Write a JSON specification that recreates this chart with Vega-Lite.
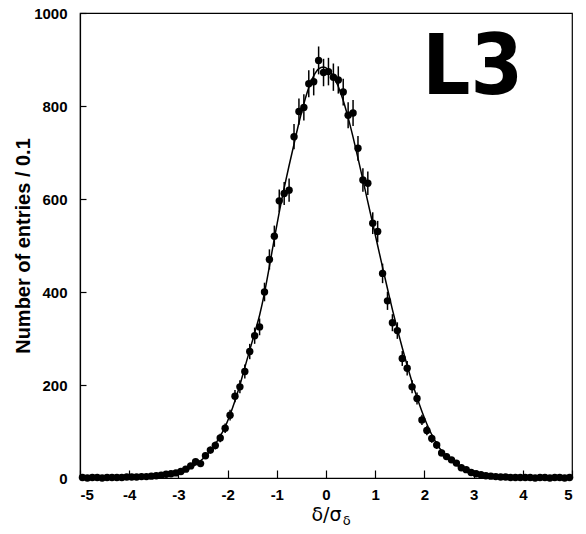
{
  "$schema": "https://vega.github.io/schema/vega-lite/v6.json",
  "autosize": "none",
  "width": 492,
  "height": 465,
  "padding": {"left": 80, "top": 13, "right": 14, "bottom": 56},
  "background": "white",
  "config": {
    "view": {"stroke": "black", "strokeWidth": 1.2},
    "axis": {
      "grid": false,
      "domainColor": "black",
      "domainWidth": 1.2,
      "tickColor": "black",
      "tickWidth": 1.2,
      "labelFont": "Liberation Sans",
      "labelFontWeight": "bold",
      "labelFontSize": 15,
      "labelColor": "black",
      "titleFont": "Liberation Sans",
      "titleColor": "black"
    }
  },
  "data": {
    "values": [
      {"x": -4.95, "n": 1, "err": 1, "fit": 0.5},
      {"x": -4.85, "n": 0, "err": 1, "fit": 0.5},
      {"x": -4.75, "n": 1, "err": 1, "fit": 0.6},
      {"x": -4.65, "n": 1, "err": 1, "fit": 0.6},
      {"x": -4.55, "n": 0, "err": 1, "fit": 0.7},
      {"x": -4.45, "n": 1, "err": 1, "fit": 0.7},
      {"x": -4.35, "n": 1, "err": 1, "fit": 0.8},
      {"x": -4.25, "n": 1, "err": 1, "fit": 0.9},
      {"x": -4.15, "n": 1, "err": 1, "fit": 1.0},
      {"x": -4.05, "n": 2, "err": 1.4, "fit": 1.2},
      {"x": -3.95, "n": 2, "err": 1.4, "fit": 1.5},
      {"x": -3.85, "n": 2, "err": 1.4, "fit": 1.8},
      {"x": -3.75, "n": 3, "err": 1.7, "fit": 2.2},
      {"x": -3.65, "n": 3, "err": 1.7, "fit": 2.8},
      {"x": -3.55, "n": 4, "err": 2, "fit": 3.4},
      {"x": -3.45, "n": 5, "err": 2.2, "fit": 4.2},
      {"x": -3.35, "n": 6, "err": 2.4, "fit": 5.2},
      {"x": -3.25, "n": 8, "err": 2.8, "fit": 6.5},
      {"x": -3.15, "n": 9, "err": 3, "fit": 8},
      {"x": -3.05, "n": 11, "err": 3.3, "fit": 10},
      {"x": -2.95, "n": 14, "err": 3.7, "fit": 13},
      {"x": -2.85, "n": 19, "err": 4.4, "fit": 17},
      {"x": -2.75, "n": 26, "err": 5.1, "fit": 22},
      {"x": -2.65, "n": 35, "err": 5.9, "fit": 29},
      {"x": -2.55, "n": 31, "err": 5.6, "fit": 37},
      {"x": -2.45, "n": 48, "err": 6.9, "fit": 47},
      {"x": -2.35, "n": 60, "err": 7.7, "fit": 59},
      {"x": -2.25, "n": 70, "err": 8.4, "fit": 73},
      {"x": -2.15, "n": 86, "err": 9.3, "fit": 90},
      {"x": -2.05, "n": 107, "err": 10.3, "fit": 110},
      {"x": -1.95, "n": 135, "err": 11.6, "fit": 136},
      {"x": -1.85, "n": 176, "err": 13.3, "fit": 166},
      {"x": -1.75, "n": 196, "err": 14, "fit": 200},
      {"x": -1.65, "n": 229, "err": 15.1, "fit": 238},
      {"x": -1.55, "n": 272, "err": 16.5, "fit": 275},
      {"x": -1.45, "n": 306, "err": 17.5, "fit": 312},
      {"x": -1.35, "n": 325, "err": 18, "fit": 350},
      {"x": -1.25, "n": 400, "err": 20, "fit": 398},
      {"x": -1.15, "n": 470, "err": 21.7, "fit": 455},
      {"x": -1.05, "n": 520, "err": 22.8, "fit": 515},
      {"x": -0.95, "n": 596, "err": 24.4, "fit": 572},
      {"x": -0.85, "n": 612, "err": 24.7, "fit": 624},
      {"x": -0.75, "n": 619, "err": 24.9, "fit": 672},
      {"x": -0.65, "n": 734, "err": 27.1, "fit": 718},
      {"x": -0.55, "n": 788, "err": 28.1, "fit": 764},
      {"x": -0.45, "n": 797, "err": 28.2, "fit": 805},
      {"x": -0.35, "n": 848, "err": 29.1, "fit": 840},
      {"x": -0.25, "n": 852, "err": 29.2, "fit": 865},
      {"x": -0.15, "n": 898, "err": 30, "fit": 880},
      {"x": -0.05, "n": 872, "err": 29.5, "fit": 884},
      {"x": 0.05, "n": 874, "err": 29.6, "fit": 878},
      {"x": 0.15, "n": 862, "err": 29.4, "fit": 864},
      {"x": 0.25, "n": 856, "err": 29.3, "fit": 842},
      {"x": 0.35, "n": 830, "err": 28.8, "fit": 812},
      {"x": 0.45, "n": 780, "err": 27.9, "fit": 775},
      {"x": 0.55, "n": 785, "err": 28, "fit": 733},
      {"x": 0.65, "n": 709, "err": 26.6, "fit": 688},
      {"x": 0.75, "n": 641, "err": 25.3, "fit": 641},
      {"x": 0.85, "n": 634, "err": 25.2, "fit": 594},
      {"x": 0.95, "n": 548, "err": 23.4, "fit": 547},
      {"x": 1.05, "n": 530, "err": 23, "fit": 500},
      {"x": 1.15, "n": 440, "err": 21, "fit": 453},
      {"x": 1.25, "n": 381, "err": 19.5, "fit": 407},
      {"x": 1.35, "n": 334, "err": 18.3, "fit": 362},
      {"x": 1.45, "n": 317, "err": 17.8, "fit": 320},
      {"x": 1.55, "n": 257, "err": 16, "fit": 280},
      {"x": 1.65, "n": 236, "err": 15.4, "fit": 242},
      {"x": 1.75, "n": 196, "err": 14, "fit": 206},
      {"x": 1.85, "n": 171, "err": 13.1, "fit": 173},
      {"x": 1.95, "n": 125, "err": 11.2, "fit": 143},
      {"x": 2.05, "n": 102, "err": 10.1, "fit": 116},
      {"x": 2.15, "n": 85, "err": 9.2, "fit": 93},
      {"x": 2.25, "n": 71, "err": 8.4, "fit": 74},
      {"x": 2.35, "n": 54, "err": 7.3, "fit": 58},
      {"x": 2.45, "n": 46, "err": 6.8, "fit": 46},
      {"x": 2.55, "n": 39, "err": 6.2, "fit": 36},
      {"x": 2.65, "n": 32, "err": 5.7, "fit": 28},
      {"x": 2.75, "n": 22, "err": 4.7, "fit": 22},
      {"x": 2.85, "n": 18, "err": 4.2, "fit": 17},
      {"x": 2.95, "n": 12, "err": 3.5, "fit": 13},
      {"x": 3.05, "n": 9, "err": 3, "fit": 10},
      {"x": 3.15, "n": 7, "err": 2.6, "fit": 8},
      {"x": 3.25, "n": 5, "err": 2.2, "fit": 6.2},
      {"x": 3.35, "n": 4, "err": 2, "fit": 4.8},
      {"x": 3.45, "n": 3, "err": 1.7, "fit": 3.8},
      {"x": 3.55, "n": 2, "err": 1.4, "fit": 3},
      {"x": 3.65, "n": 2, "err": 1.4, "fit": 2.4},
      {"x": 3.75, "n": 1, "err": 1, "fit": 1.9},
      {"x": 3.85, "n": 1, "err": 1, "fit": 1.5},
      {"x": 3.95, "n": 1, "err": 1, "fit": 1.2},
      {"x": 4.05, "n": 1, "err": 1, "fit": 1.0},
      {"x": 4.15, "n": 1, "err": 1, "fit": 0.9},
      {"x": 4.25, "n": 0, "err": 1, "fit": 0.8},
      {"x": 4.35, "n": 1, "err": 1, "fit": 0.7},
      {"x": 4.45, "n": 1, "err": 1, "fit": 0.7},
      {"x": 4.55, "n": 0, "err": 1, "fit": 0.6},
      {"x": 4.65, "n": 1, "err": 1, "fit": 0.6},
      {"x": 4.75, "n": 1, "err": 1, "fit": 0.5},
      {"x": 4.85, "n": 0, "err": 1, "fit": 0.5},
      {"x": 4.95, "n": 1, "err": 1, "fit": 0.5}
    ]
  },
  "layer": [
    {
      "mark": {"type": "line", "color": "black", "strokeWidth": 1.5, "interpolate": "monotone"},
      "encoding": {
        "x": {"field": "x", "type": "quantitative",
              "scale": {"domain": [-5, 5], "nice": false, "zero": false},
              "axis": {"values": [-5, -4, -3, -2, -1, 0, 1, 2, 3, 4, 5], "tickSize": -8, "labelPadding": 17,
                       "labelExpr": "'' + datum.value",
                       "title": "δ/σ", "titleFont": "DejaVu Sans", "titleFontWeight": "normal", "titleFontSize": 19, "titlePadding": 3}},
        "y": {"field": "fit", "type": "quantitative",
              "scale": {"domain": [0, 1000], "nice": false},
              "axis": {"values": [0, 200, 400, 600, 800, 1000], "tickSize": -6, "labelPadding": 19,
                       "labelExpr": "'' + datum.value",
                       "title": "Number of entries / 0.1", "titleFontWeight": "bold", "titleFontSize": 20, "titlePadding": 0}}
      }
    },
    {
      "mark": {"type": "errorbar", "color": "black", "thickness": 1.5},
      "encoding": {
        "x": {"field": "x", "type": "quantitative", "title": "δ/σ"},
        "y": {"field": "n", "type": "quantitative", "title": "Number of entries / 0.1"},
        "yError": {"field": "err"}
      }
    },
    {
      "mark": {"type": "point", "filled": true, "color": "black", "opacity": 1, "size": 55},
      "encoding": {
        "x": {"field": "x", "type": "quantitative", "title": "δ/σ"},
        "y": {"field": "n", "type": "quantitative", "title": "Number of entries / 0.1"}
      }
    },
    {
      "data": {"values": [{"lx": 2.98, "ly": 826, "label": "L3"}]},
      "mark": {"type": "text", "font": "Liberation Sans Narrow, DejaVu Sans Condensed, sans-serif", "fontWeight": "bold", "fontSize": 84, "align": "center", "baseline": "alphabetic", "color": "black"},
      "encoding": {
        "x": {"field": "lx", "type": "quantitative", "title": "δ/σ"},
        "y": {"field": "ly", "type": "quantitative", "title": "Number of entries / 0.1"},
        "text": {"field": "label"}
      }
    },
    {
      "data": {"values": [{"lx": 0.34, "ly": -100, "label": "δ"}]},
      "mark": {"type": "text", "font": "DejaVu Sans", "fontSize": 13, "align": "left", "baseline": "alphabetic", "color": "black"},
      "encoding": {
        "x": {"field": "lx", "type": "quantitative", "title": "δ/σ"},
        "y": {"field": "ly", "type": "quantitative", "title": "Number of entries / 0.1"},
        "text": {"field": "label"}
      }
    }
  ]
}
